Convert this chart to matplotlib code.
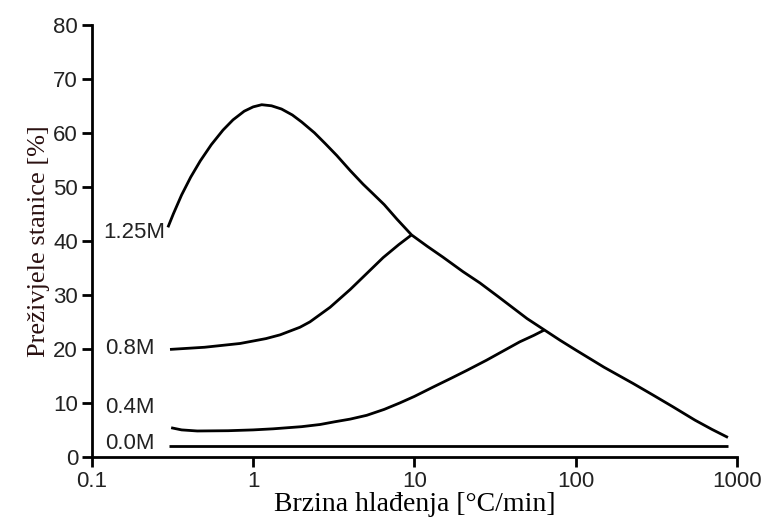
import matplotlib.pyplot as plt
import matplotlib.ticker as mticker

# cooling rate [°C/min] vs surviving cells [%]
x_125 = [0.296, 0.32, 0.36, 0.41, 0.47, 0.55, 0.65, 0.75, 0.88, 1.0, 1.13, 1.3,
         1.5, 1.75, 2.0, 2.4, 2.8, 3.3, 4.0, 4.8, 5.5, 6.5, 7.8, 9.6,
         12, 15, 20, 25.5, 33, 40, 50, 64, 80, 100, 150, 227, 300, 400, 550, 700, 880]
y_125 = [42.5, 45.0, 48.5, 51.8, 54.8, 57.8, 60.5, 62.4, 64.0, 64.8, 65.2, 65.0,
         64.4, 63.3, 62.0, 60.0, 58.0, 55.8, 53.0, 50.5, 48.8, 46.7, 44.0, 41.1,
         39.0, 37.0, 34.3, 32.2, 29.7, 27.8, 25.6, 23.5, 21.6, 19.8, 16.6, 13.6, 11.5, 9.3, 6.8, 5.1, 3.6]

x_08 = [0.305, 0.5, 0.83, 1.2, 1.47, 1.95, 2.25, 3.0, 4.0, 5.0, 6.4, 8.0, 9.6]
y_08 = [19.9, 20.3, 21.0, 21.9, 22.6, 24.0, 25.0, 27.7, 31.0, 33.8, 36.9, 39.3, 41.1]

x_04 = [0.31, 0.36, 0.45, 0.7, 1.0, 1.33, 2.0, 2.6, 3.2, 4.0, 5.06, 6.5, 8.13,
        10, 13, 17, 21.1, 28, 35, 45, 55, 64]
y_04 = [5.4, 5.0, 4.8, 4.85, 5.0, 5.2, 5.6, 6.0, 6.5, 7.0, 7.7, 8.8, 10.0,
        11.2, 12.9, 14.6, 16.0, 17.9, 19.5, 21.3, 22.5, 23.5]

x_00 = [0.3, 880]
y_00 = [2.1, 2.1]

series_names = ['1.25M', '0.8M', '0.4M', '0.0M']
label_x = [0.284, 0.246, 0.246, 0.246]
label_y = [41.6, 20.0, 9.2, 2.5]

xticks = [0.1, 1, 10, 100, 1000]
xtick_labels = ['0.1', '1', '10', '100', '1000']
yticks = [0, 10, 20, 30, 40, 50, 60, 70, 80]

sans = 'Liberation Sans'
serif = 'Liberation Serif'

fig = plt.figure(figsize=(7.66, 5.27), dpi=100)
ax = fig.add_axes([0.120, 0.133, 0.842, 0.820])

lw = 2.0
for xs, ys in [(x_125, y_125), (x_08, y_08), (x_04, y_04), (x_00, y_00)]:
    ax.plot(xs, ys, color='black', lw=lw, solid_capstyle='butt',
            solid_joinstyle='round')

for name, lx, ly in zip(series_names, label_x, label_y):
    ax.text(lx, ly, name, ha='right', va='center', fontsize=16,
            family=sans, color='#222222')

ax.set_xscale('log')
ax.set_xlim(0.1, 1000)
ax.set_ylim(0, 80)
ax.xaxis.set_major_locator(mticker.FixedLocator(xticks))
ax.xaxis.set_major_formatter(mticker.FixedFormatter(xtick_labels))
ax.xaxis.set_minor_locator(mticker.NullLocator())
ax.set_yticks(yticks)

for s in ['top', 'right']:
    ax.spines[s].set_visible(False)
for s in ['left', 'bottom']:
    ax.spines[s].set_linewidth(2)

ax.tick_params(axis='both', direction='out', width=2, length=7,
               labelsize=16, labelcolor='#222222', pad=3)
for lab in ax.get_xticklabels() + ax.get_yticklabels():
    lab.set_family(sans)

ax.set_xlabel('Brzina hlađenja [°C/min]', family=serif, fontsize=20, labelpad=0)
ax.set_ylabel('Preživjele stanice [%]', family=serif, fontsize=19, labelpad=2,
              color='#2a1010')

fig.savefig('out.png', dpi=100)
